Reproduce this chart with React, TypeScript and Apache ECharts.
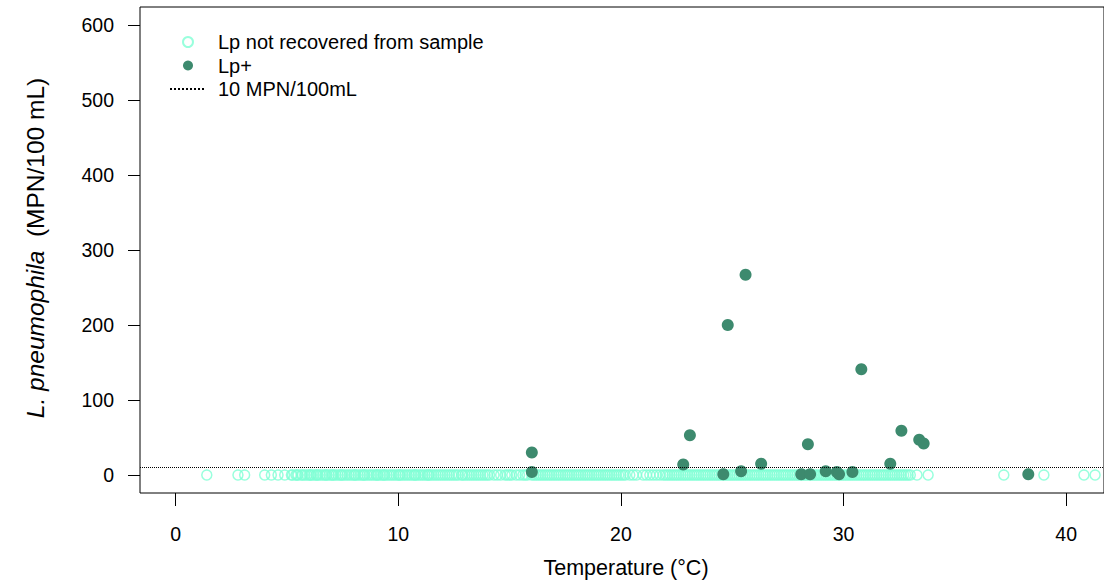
import React, { useEffect, useRef } from "react";
import * as echarts from "echarts";

// Temperatures (°C) of samples where Lp was not recovered (plotted at 0)
const notRecoveredTemp: number[] = [
  1.4, 2.8, 3.1, 4.0, 4.3, 4.6, 4.9,
  5.2, 5.4, 5.5, 5.7, 5.8, 6.0, 6.1, 6.3, 6.4, 6.5, 6.7, 6.8, 7.0, 7.1, 7.2, 7.4, 7.5, 7.7, 7.8,
  8.0, 8.1, 8.2, 8.4, 8.5, 8.7, 8.8, 9.0, 9.1, 9.3, 9.4, 9.5, 9.7, 9.8, 10.0, 10.1, 10.2, 10.4,
  10.5, 10.7, 10.8, 11.0, 11.1, 11.3, 11.4, 11.5, 11.7, 11.8, 12.0, 12.1, 12.3, 12.4, 12.6, 12.7,
  12.9, 13.0, 13.2, 13.3, 13.5, 13.6, 13.8, 14.0, 14.3, 14.6, 14.8, 15.1, 15.3, 15.6, 15.8, 16.0,
  16.2, 16.3, 16.5, 16.6, 16.8, 16.9, 17.0, 17.2, 17.3, 17.5, 17.6, 17.8, 17.9, 18.1, 18.2, 18.4,
  18.5, 18.7, 18.8, 19.0, 19.1, 19.3, 19.4, 19.6, 19.8, 20.0, 20.2, 20.4, 20.7, 21.0, 21.3, 21.6,
  21.9, 22.1, 22.3, 22.5, 22.6, 22.8, 22.9, 23.1, 23.2, 23.4, 23.5, 23.7, 23.8, 24.0, 24.1, 24.3,
  24.4, 24.6, 24.7, 24.9, 25.0, 25.2, 25.3, 25.5, 25.6, 25.8, 25.9, 26.1, 26.2, 26.4, 26.5, 26.7,
  26.8, 27.0, 27.1, 27.3, 27.4, 27.6, 27.7, 27.9, 28.0, 28.2, 28.3, 28.5, 28.6, 28.8, 28.9, 29.1,
  29.2, 29.4, 29.5, 29.7, 29.8, 30.0, 30.1, 30.3, 30.4, 30.6, 30.7, 30.9, 31.0, 31.2, 31.3, 31.5,
  31.6, 31.8, 31.9, 32.1, 32.3, 32.5, 32.7, 32.9, 33.0,
  5.25, 5.45, 5.65, 5.9, 6.05, 6.2, 6.35, 6.6, 6.75, 6.9, 7.05, 7.3, 7.45, 7.6, 7.9, 8.05, 8.3,
  8.45, 8.6, 8.9, 9.05, 9.2, 9.35, 9.6, 9.9, 10.05, 10.3, 10.6, 10.75, 10.9, 11.2, 11.35, 11.6,
  11.9, 12.2, 12.5, 12.85, 13.1, 13.4, 13.7, 13.9, 14.1, 14.45, 14.9, 15.0, 15.45, 15.7, 16.1,
  16.4, 16.7, 17.1, 17.4, 17.7, 18.0, 18.3, 18.6, 18.9, 19.2, 19.5, 19.7, 19.9, 20.1, 20.55,
  21.15, 21.45, 21.75, 22.0, 22.2, 22.4, 22.7, 23.0, 23.3, 23.6, 23.9, 24.2, 24.5, 24.8, 25.1,
  25.4, 25.7, 26.0, 26.3, 26.6, 26.9, 27.2, 27.5, 27.8, 28.1, 28.4, 28.7, 29.0, 29.3, 29.6, 29.9,
  30.2, 30.5, 30.8, 31.1, 31.4, 31.7, 32.0, 32.2, 32.4, 32.6, 32.8,
  33.3, 33.8, 37.2, 39.0, 40.8, 41.3,
];

// Lp+ samples: temperature (°C) and concentration (MPN/100 mL)
const positiveTemp: number[] = [
  16.0, 16.0, 22.8, 23.1, 24.6, 24.8, 25.4, 25.6, 26.3, 28.1, 28.4, 28.5, 29.2, 29.7, 29.8,
  30.4, 30.8, 32.1, 32.6, 33.4, 33.6, 38.3,
];
const positiveMPN: number[] = [
  30, 4, 14, 53, 1, 200, 5, 267, 15, 1, 41, 1, 5, 4, 1,
  4, 141, 15, 59, 47, 42, 1,
];

const threshold = 10;
const xTicks: number[] = [0, 10, 20, 30, 40];
const yTicks: number[] = [0, 100, 200, 300, 400, 500, 600];

const seriesNames = ["Lp not recovered from sample", "Lp+", "10 MPN/100mL"];

const FONT = "'Liberation Sans', Arial, Helvetica, sans-serif";

export default function App() {
  const ref = useRef<HTMLDivElement>(null);

  useEffect(() => {
    if (!ref.current) return;
    const chart = echarts.init(ref.current, undefined, { renderer: "svg" });

    const hollowData = notRecoveredTemp.map((t) => [t, 0]);
    const filledData = positiveTemp.map((t, i) => [t, positiveMPN[i]]);

    chart.setOption({
      animation: false,
      backgroundColor: "#ffffff",
      textStyle: { fontFamily: FONT },
      grid: {
        show: true,
        left: 140,
        top: 7,
        width: 976,
        height: 486,
        borderColor: "#000",
        borderWidth: 1,
        backgroundColor: "transparent",
        containLabel: false,
      },
      legend: {
        show: true,
        orient: "vertical",
        left: 164,
        top: 27,
        itemWidth: 36,
        itemHeight: 10,
        itemGap: 3.5,
        selectedMode: false,
        data: [
          { name: seriesNames[0] },
          { name: seriesNames[1] },
          {
            name: seriesNames[2],
            itemStyle: { color: "rgba(0,0,0,0)", borderWidth: 0, opacity: 0 },
          },
        ],
        textStyle: {
          fontFamily: FONT,
          fontSize: 20,
          color: "#000",
          padding: [0, 0, 0, 7],
        },
      },
      xAxis: {
        type: "value",
        min: -1.6,
        max: 41.7,
        axisLine: { show: false, onZero: false },
        splitLine: { show: false },
        axisTick: {
          show: true,
          customValues: xTicks,
          length: 13,
          lineStyle: { color: "#000", width: 1 },
        },
        axisLabel: {
          customValues: xTicks,
          margin: 31,
          fontSize: 19.5,
          color: "#000",
          fontFamily: FONT,
        },
      },
      yAxis: {
        type: "value",
        min: -24,
        max: 624,
        axisLine: { show: false, onZero: false },
        splitLine: { show: false },
        axisTick: {
          show: true,
          customValues: yTicks,
          length: 12,
          lineStyle: { color: "#000", width: 1 },
        },
        axisLabel: {
          customValues: yTicks,
          margin: 26,
          fontSize: 19.5,
          color: "#000",
          fontFamily: FONT,
        },
      },
      graphic: [
        {
          type: "text",
          x: 626,
          y: 568,
          style: {
            text: "Temperature (°C)",
            fontSize: 21.5,
            fontFamily: FONT,
            fill: "#000",
            align: "center",
            verticalAlign: "middle",
          },
        },
        {
          type: "text",
          x: 35,
          y: 248,
          rotation: Math.PI / 2,
          style: {
            text: "{i|L. pneumophila}  (MPN/100 mL)",
            fontSize: 24.5,
            fontFamily: FONT,
            fill: "#000",
            align: "center",
            verticalAlign: "middle",
            rich: {
              i: { fontStyle: "italic", fontSize: 24.5, fontFamily: FONT, fill: "#000" },
            },
          },
        },
      ],
      series: [
        {
          name: seriesNames[0],
          type: "scatter",
          symbol: "circle",
          symbolSize: 10,
          data: hollowData,
          itemStyle: {
            color: "rgba(0,0,0,0)",
            borderColor: "#7fffd4",
            borderWidth: 1.5,
          },
          z: 2,
        },
        {
          name: seriesNames[1],
          type: "scatter",
          symbol: "circle",
          symbolSize: 12,
          data: filledData,
          itemStyle: { color: "#3d8a6e", opacity: 1 },
          z: 4,
        },
        {
          name: seriesNames[2],
          type: "line",
          data: [],
          symbol: "none",
          lineStyle: { type: "dotted", color: "#000", width: 1 },
          itemStyle: { color: "#000" },
          markLine: {
            silent: true,
            symbol: ["none", "none"],
            label: { show: false },
            lineStyle: { type: "dotted", color: "#000", width: 1 },
            data: [{ yAxis: threshold }],
          },
          z: 3,
        },
      ],
    });

    return () => chart.dispose();
  }, []);

  return (
    <div
      ref={ref}
      style={{ position: "absolute", left: 0, top: 0, width: 1104, height: 580 }}
    />
  );
}
